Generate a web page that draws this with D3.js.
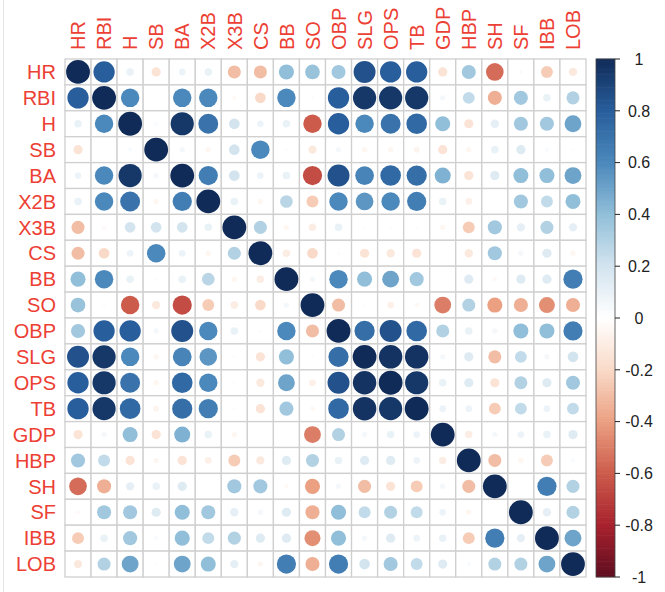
<!DOCTYPE html>
<html lang="en">
<head>
    <meta charset="UTF-8">
    <title>Correlation matrix</title>
    <script src="https://d3js.org/d3.v7.min.js"></script>
    <style>
        body { margin: 0; background: #fff; }
        .lab { font-family: "Liberation Sans", Arial, sans-serif; font-size: 20px; fill: #ec4034; }
        .leg { font-family: "Liberation Sans", Arial, sans-serif; font-size: 16px; fill: #222; }
    </style>
</head>
<body>
<div id="chart"></div>
<script>
    // variables (row / column order)
    const vars = ["HR", "RBI", "H", "SB", "BA", "X2B", "X3B", "CS", "BB", "SO",
                  "OBP", "SLG", "OPS", "TB", "GDP", "HBP", "SH", "SF", "IBB", "LOB"];

    // correlation matrix
    const corr = [
        [1, 0.8, 0.1, -0.15, 0.08, 0.1, -0.3, -0.3, 0.4, 0.38, 0.35, 0.85, 0.8, 0.8, -0.15, 0.35, -0.55, -0.03, -0.25, -0.12],
        [0.8, 1, 0.6, 0, 0.6, 0.6, -0.03, -0.2, 0.6, -0.02, 0.8, 0.95, 0.95, 0.95, 0.05, 0.25, -0.35, 0.35, 0.1, 0.3],
        [0.1, 0.6, 1, 0.03, 0.95, 0.7, 0.2, 0.08, 0.1, -0.6, 0.8, 0.6, 0.7, 0.75, 0.4, -0.15, 0.12, 0.35, 0.35, 0.5],
        [-0.15, 0, 0.03, 1, 0.05, -0.05, 0.2, 0.6, 0.02, -0.12, 0.05, -0.05, -0.05, -0.06, -0.15, -0.05, 0.1, 0.15, 0.03, 0.02],
        [0.08, 0.6, 0.95, 0.05, 1, 0.65, 0.2, 0.08, 0.1, -0.65, 0.85, 0.62, 0.75, 0.72, 0.45, -0.15, 0.15, 0.4, 0.4, 0.5],
        [0.1, 0.6, 0.7, -0.05, 0.65, 1, 0.1, -0.05, 0.28, -0.25, 0.6, 0.55, 0.6, 0.65, 0.1, -0.08, 0, 0.35, 0.25, 0.4],
        [-0.3, -0.03, 0.2, 0.2, 0.2, 0.1, 1, 0.3, -0.05, -0.1, 0.1, 0.02, 0.02, 0.02, -0.05, -0.25, 0.35, 0.12, 0.3, 0.12],
        [-0.3, -0.2, 0.08, 0.6, 0.08, -0.05, 0.3, 1, -0.1, -0.2, 0.02, -0.15, -0.12, -0.15, 0.01, -0.12, 0.35, 0.05, 0.15, -0.05],
        [0.4, 0.6, 0.1, 0.02, 0.1, 0.28, -0.05, -0.1, 1, 0.05, 0.6, 0.4, 0.5, 0.35, 0, 0.15, -0.03, 0.15, 0.15, 0.65],
        [0.38, -0.02, -0.6, -0.12, -0.65, -0.25, -0.1, -0.2, 0.05, 1, -0.3, 0.02, -0.08, -0.04, -0.5, 0.3, -0.4, -0.35, -0.45, -0.35],
        [0.35, 0.8, 0.8, 0.05, 0.85, 0.6, 0.1, 0.02, 0.6, -0.3, 1, 0.72, 0.85, 0.75, 0.3, 0.1, 0.05, 0.4, 0.4, 0.65],
        [0.85, 0.95, 0.6, -0.05, 0.62, 0.55, 0.02, -0.15, 0.4, 0.02, 0.72, 1, 0.97, 0.97, 0.05, 0.15, -0.3, 0.25, 0.05, 0.2],
        [0.8, 0.95, 0.7, -0.05, 0.75, 0.6, 0.02, -0.12, 0.5, -0.08, 0.85, 0.97, 1, 0.95, 0.1, 0.15, -0.15, 0.3, 0.15, 0.35],
        [0.8, 0.95, 0.75, -0.06, 0.72, 0.65, 0.02, -0.15, 0.35, -0.04, 0.75, 0.97, 0.95, 1, 0.08, 0.08, -0.25, 0.25, 0.08, 0.25],
        [-0.15, 0.05, 0.4, -0.15, 0.45, 0.1, -0.05, 0.01, 0, -0.5, 0.3, 0.05, 0.1, 0.08, 1, -0.1, 0.05, 0.08, 0.1, 0.15],
        [0.35, 0.25, -0.15, -0.05, -0.15, -0.08, -0.25, -0.12, 0.15, 0.3, 0.1, 0.15, 0.15, 0.08, -0.1, 1, -0.3, -0.05, -0.25, 0.03],
        [-0.55, -0.35, 0.12, 0.1, 0.15, 0, 0.35, 0.35, -0.03, -0.4, 0.05, -0.3, -0.15, -0.25, 0.05, -0.3, 1, 0.01, 0.65, 0.3],
        [-0.03, 0.35, 0.35, 0.15, 0.4, 0.35, 0.12, 0.05, 0.15, -0.35, 0.4, 0.25, 0.3, 0.25, 0.08, -0.05, 0.01, 1, 0.12, 0.3],
        [-0.25, 0.1, 0.35, 0.03, 0.4, 0.25, 0.3, 0.15, 0.15, -0.45, 0.4, 0.05, 0.15, 0.08, 0.1, -0.25, 0.65, 0.12, 1, 0.5],
        [-0.12, 0.3, 0.5, 0.02, 0.5, 0.4, 0.12, -0.05, 0.65, -0.35, 0.65, 0.2, 0.35, 0.25, 0.15, 0.03, 0.3, 0.3, 0.5, 1]
    ];

    // colour legend ticks
    const legendTicks = [1, 0.8, 0.6, 0.4, 0.2, 0, -0.2, -0.4, -0.6, -0.8, -1];

    // RdBu-like palette (slightly muted, as in the picture)
    const palette = ["#5e0d1f", "#a8222e", "#cc5b4b", "#eba082", "#f9dac8", "#ffffff",
                     "#d3e4ef", "#91bfd9", "#4b88bb", "#285e9c", "#102b58"];

    const width = 665, height = 592;
    const gx0 = 65, gx1 = 586, gy0 = 59, gy1 = 577;

    const svg = d3.select("#chart").append("svg")
        .attr("width", width).attr("height", height);

    const x = d3.scaleBand().domain(vars).range([gx0, gx1]);
    const y = d3.scaleBand().domain(vars).range([gy0, gy1]);
    const color = d3.scaleLinear()
        .domain(d3.range(palette.length).map(i => -1 + 2 * i / (palette.length - 1)))
        .range(palette);

    // thin frame line on the left edge of the screenshot
    svg.append("line").attr("x1", 3.5).attr("x2", 3.5).attr("y1", 0).attr("y2", height)
        .attr("stroke", "#e4e4e4").attr("stroke-width", 1);

    // cells
    const cells = [];
    corr.forEach((row, i) => row.forEach((v, j) => cells.push({ r: vars[i], c: vars[j], v })));

    svg.append("g").selectAll("rect").data(cells).enter().append("rect")
        .attr("x", d => x(d.c)).attr("y", d => y(d.r))
        .attr("width", x.bandwidth()).attr("height", y.bandwidth())
        .attr("fill", "#fff").attr("stroke", "#cfcfcf").attr("stroke-width", 1.3);

    const rad = Math.min(x.bandwidth(), y.bandwidth()) * 0.46;
    svg.append("g").selectAll("circle").data(cells).enter().append("circle")
        .attr("cx", d => x(d.c) + x.bandwidth() / 2)
        .attr("cy", d => y(d.r) + y.bandwidth() / 2)
        .attr("r", d => rad * Math.sqrt(Math.abs(d.v)))
        .attr("fill", d => color(d.v));

    // row labels
    svg.append("g").selectAll("text").data(vars).enter().append("text")
        .attr("class", "lab")
        .attr("x", gx0 - 9)
        .attr("y", d => y(d) + y.bandwidth() / 2)
        .attr("dy", "0.36em")
        .attr("text-anchor", "end")
        .text(d => d);

    // column labels (vertical)
    svg.append("g").selectAll("text").data(vars).enter().append("text")
        .attr("class", "lab")
        .attr("transform", d => `translate(${x(d) + x.bandwidth() / 2},${gy0 - 9}) rotate(-90)`)
        .attr("dy", "0.36em")
        .attr("text-anchor", "start")
        .text(d => d);

    // colour legend
    const lx0 = 596, lx1 = 615;
    const ly = d3.scaleLinear().domain([1, -1]).range([gy0, gy1]);
    const steps = d3.range(200).map(i => -1 + (i + 0.5) * 2 / 200);
    const stepH = (gy1 - gy0) / 200;
    svg.append("g").selectAll("rect").data(steps).enter().append("rect")
        .attr("x", lx0).attr("width", lx1 - lx0)
        .attr("y", d => ly(d) - stepH / 2 - 0.3).attr("height", stepH + 0.6)
        .attr("fill", d => color(d));
    svg.append("rect")
        .attr("x", lx0).attr("y", gy0).attr("width", lx1 - lx0).attr("height", gy1 - gy0)
        .attr("fill", "none").attr("stroke", "#444").attr("stroke-width", 0.8);

    const lt = svg.append("g");
    lt.selectAll("line").data(legendTicks).enter().append("line")
        .attr("x1", lx1).attr("x2", lx1 + 5)
        .attr("y1", d => ly(d)).attr("y2", d => ly(d))
        .attr("stroke", "#222").attr("stroke-width", 1);
    lt.selectAll("text").data(legendTicks).enter().append("text")
        .attr("class", "leg")
        .attr("x", 639)
        .attr("y", d => ly(d))
        .attr("dy", "0.36em")
        .attr("text-anchor", "middle")
        .text(d => String(d));
</script>
</body>
</html>
